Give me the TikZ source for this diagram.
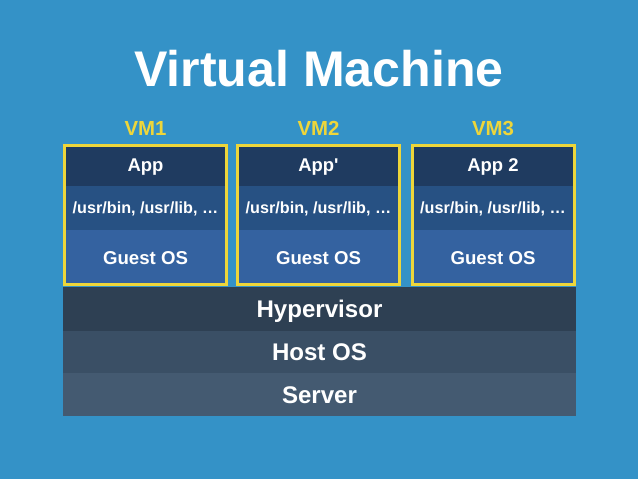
\documentclass[tikz,border=0pt]{standalone}
\usepackage{fontspec}
\setmainfont{Liberation Sans}
\usetikzlibrary{positioning, fit}

\definecolor{bgblue}{RGB}{52,146,199}
\definecolor{vmyellow}{RGB}{238,214,58}
\definecolor{appnavy}{RGB}{31,59,96}
\definecolor{libblue}{RGB}{39,81,131}
\definecolor{osblue}{RGB}{52,98,160}
\definecolor{hyperslate}{RGB}{46,64,83}
\definecolor{hostslate}{RGB}{58,79,101}
\definecolor{serverslate}{RGB}{68,90,113}

\begin{document}
\begin{tikzpicture}[
    node distance=0pt,
    every node/.style={text=white, font=\bfseries},
    row/.style={rectangle, minimum width=3.3cm, inner sep=0pt, outer sep=0pt,
                text depth=0pt, align=center},
    approw/.style={row, fill=appnavy, minimum height=0.84cm, text height=7.5pt,
                   font=\bfseries\fontsize{10.5}{12}\selectfont},
    librow/.style={row, fill=libblue, minimum height=0.88cm, text height=6.6pt,
                   font=\bfseries\fontsize{9.2}{11}\selectfont},
    osrow/.style={row, fill=osblue, minimum height=1.12cm, text height=7.6pt,
                  font=\bfseries\fontsize{10.6}{12}\selectfont},
    vmframe/.style={rectangle, draw=vmyellow, line width=0.06cm, inner sep=-0.03cm},
    vmlabel/.style={text=vmyellow, inner sep=0pt, font=\bfseries\fontsize{11.6}{13}\selectfont},
    layer/.style={rectangle, minimum width=10.26cm, inner sep=0pt, outer sep=0pt,
                  text height=9.8pt, text depth=0pt,
                  font=\bfseries\fontsize{13.7}{15}\selectfont}
]

% Background
\fill[bgblue] (0,0) rectangle (12.76,-9.58);
\useasboundingbox (0,0) rectangle (12.76,-9.58);

\node[anchor=base, font=\bfseries\fontsize{28.5}{32}\selectfont] (title) at (6.38,-1.72) {Virtual Machine};

% VM1
\node[approw] (app1) at (2.91,-3.30) {App};
\node[librow, below=of app1] (lib1) {/usr/bin, /usr/lib, …};
\node[osrow, below=of lib1] (os1) {Guest OS};
\node[vmframe, fit=(app1)(os1)] (vm1) {};
\node[vmlabel, above=0.16cm of vm1] (vmlab1) {VM1};

% VM2
\node[approw] (app2) at (6.37,-3.30) {App\textquotesingle};
\node[librow, below=of app2] (lib2) {/usr/bin, /usr/lib, …};
\node[osrow, below=of lib2] (os2) {Guest OS};
\node[vmframe, fit=(app2)(os2)] (vm2) {};
\node[vmlabel, above=0.16cm of vm2] (vmlab2) {VM2};

% VM3
\node[approw] (app3) at (9.86,-3.30) {App 2};
\node[librow, below=of app3] (lib3) {/usr/bin, /usr/lib, …};
\node[osrow, below=of lib3] (os3) {Guest OS};
\node[vmframe, fit=(app3)(os3)] (vm3) {};
\node[vmlabel, above=0.16cm of vm3] (vmlab3) {VM3};

% Shared layers
\node[layer, fill=hyperslate, minimum height=0.88cm] (hyper) at (6.39,-6.18) {Hypervisor};
\node[layer, fill=hostslate, minimum height=0.84cm, below=of hyper] (host) {Host OS};
\node[layer, fill=serverslate, minimum height=0.86cm, below=of host] (server) {Server};

\end{tikzpicture}
\end{document}
